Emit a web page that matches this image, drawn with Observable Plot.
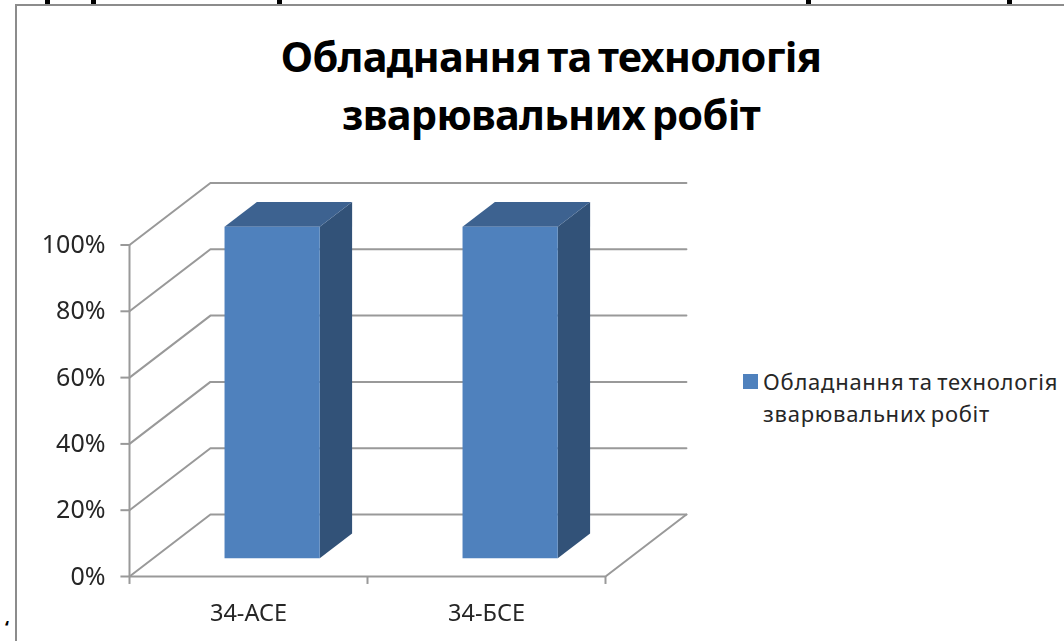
<!DOCTYPE html>
<html><head><meta charset="utf-8">
<script src="https://cdn.jsdelivr.net/npm/d3@7"></script>
<script src="https://cdn.jsdelivr.net/npm/@observablehq/plot@0.6"></script>
<style>
html,body{margin:0;padding:0;background:#fff;overflow:hidden}
#stage{position:relative;width:1064px;height:641px;overflow:hidden}
#frame{position:absolute;left:15px;top:4px;width:1100px;height:700px;border-left:2px solid #8c8c8c;border-top:2px solid #8c8c8c}
#plot{position:absolute;left:0;top:0}
svg{background:transparent!important;filter:blur(.4px)}
.t{position:absolute;white-space:nowrap;font-family:"Noto Sans",sans-serif;color:#000}
#title{left:251px;width:600px;text-align:center;top:27px;font-size:41.5px;line-height:58px;font-weight:700;letter-spacing:-.7px;word-spacing:-3.5px}
#mark{left:5px;top:620px;font-size:18px;line-height:15px;font-weight:700}
.frag{position:absolute;top:0;width:5px;height:4px;background:#000}
</style></head><body>
<div id="stage"><div id="frame"></div><div id="plot"></div>
<div id="title" class="t">Обладнання та технологія<br>зварювальних робіт</div>
<div id="mark" class="t">‘</div>
</div>
<script>
const categories = ["34-АСЕ", "34-БСЕ"];
const values = [100, 100];
const yTicks = [0, 20, 40, 60, 80, 100];
const xTicks = [0, 1, 2];
const seriesName = ["Обладнання та технологія", "зварювальних робіт"];
const depthX = 0.34, depthY = 18.7;
const barHalf = 0.2, barNear = 0.295, barFar = 0.695;
const tickX = 0.036, tickY = 2.4;
const gray = "#999999", front = "#4f81bd", top_ = "#3d6290", side = "#325278";

const cx = i => i + 0.499;
const px = (x, d) => x + d * depthX;
const py = (v, d) => v + d * depthY;

const wall = [];
yTicks.forEach(v => {
  wall.push({k:"b"+v, x:px(0,0), y:py(v,0)}, {k:"b"+v, x:px(0,1), y:py(v,1)}, {k:"b"+v, x:px(2,1), y:py(v,1)});
});
wall.push({k:"f", x:px(2,0), y:py(0,0)}, {k:"f", x:px(2,1), y:py(0,1)});

const polys = [];
values.forEach((v,i) => {
  const l = cx(i)-barHalf, r = cx(i)+barHalf;
  const add = (face, pts) => pts.forEach(([x,val,d]) => polys.push({k:face+i, face, x:px(x,d), y:py(val,d)}));
  add("side", [[r,0,barNear],[r,0,barFar],[r,v,barFar],[r,v,barNear]]);
  add("top", [[l,v,barNear],[r,v,barNear],[r,v,barFar],[l,v,barFar]]);
  add("front", [[l,0,barNear],[r,0,barNear],[r,v,barNear],[l,v,barNear]]);
});
const faceColor = {front, top:top_, side};
const lineOpts = {stroke:gray, strokeWidth:2};

const fig = Plot.plot({
  width:1064, height:641, marginTop:0, marginRight:0, marginBottom:0, marginLeft:0,
  style:{fontFamily:'"Noto Sans",sans-serif', background:"transparent"},
  x:{domain:[0,2], range:[129,605], axis:null, label:null},
  y:{domain:[0,100], range:[576,244.5], axis:null, label:null},
  marks:[
    Plot.line(wall,{x:"x",y:"y",z:"k",...lineOpts}),
    Plot.ruleX([0],{y1:0,y2:100,...lineOpts}),
    Plot.ruleY([0],{x1:0,x2:2,...lineOpts}),
    Plot.ruleY(yTicks,{y:d=>d,x1:-tickX,x2:0,...lineOpts}),
    Plot.ruleX(xTicks,{x:d=>d,y1:-tickY,y2:0,...lineOpts}),
    ...["side","top","front"].map(f=>Plot.line(polys.filter(d=>d.face===f),{x:"x",y:"y",z:"k",fill:faceColor[f],stroke:"none"})),
    Plot.text(yTicks,{x:0,y:d=>d,dx:-24,text:d=>d+"%",textAnchor:"end",fontSize:25,fill:"#262626"}),
    Plot.text(categories,{x:(d,i)=>i+0.5,y:0,dy:37,text:d=>d,fontSize:23.5,fill:"#262626"}),
  ]
});
document.getElementById("plot").append(fig);

const stage=document.getElementById("stage");
[47,93,279,808,1009].forEach(x=>{
  const f=document.createElement("div");f.className="frag";f.style.left=(x-2)+"px";stage.append(f);
});
const sw=document.createElement("div");
sw.style.cssText="position:absolute;left:743px;top:374px;width:15px;height:15px;background:"+front;
stage.append(sw);
seriesName.forEach((s,i)=>{
  const e=document.createElement("div");e.className="t";e.textContent=s;
  e.style.cssText="left:763px;top:"+(367+i*32)+"px;font-size:22px;line-height:28px;color:#262626;letter-spacing:.75px;word-spacing:-2px";
  stage.append(e);
});
</script></body></html>
